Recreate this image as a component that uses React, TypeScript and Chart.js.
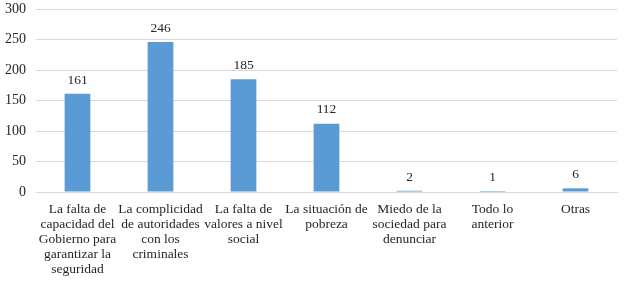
import React, { useEffect, useRef } from "react";
import { Chart, registerables } from "chart.js";

Chart.register(...registerables);

const categories: string[][] = [
  ["La falta de", "capacidad del", "Gobierno para", "garantizar la", "seguridad"],
  ["La complicidad", "de autoridades", "con los", "criminales"],
  ["La falta de", "valores a nivel", "social"],
  ["La situación de", "pobreza"],
  ["Miedo de la", "sociedad para", "denunciar"],
  ["Todo lo", "anterior"],
  ["Otras"],
];
const values: number[] = [161, 246, 185, 112, 2, 1, 6];
const yTicks: number[] = [0, 50, 100, 150, 200, 250, 300];

const FONT = '"Liberation Serif", "Times New Roman", serif';

const valueLabels = {
  id: "valueLabels",
  afterDatasetsDraw(chart: any) {
    const ctx = chart.ctx;
    const meta = chart.getDatasetMeta(0);
    ctx.save();
    ctx.font = `13.5px ${FONT}`;
    ctx.fillStyle = "#262626";
    ctx.textAlign = "center";
    ctx.textBaseline = "bottom";
    meta.data.forEach((bar: any, i: number) => {
      ctx.fillText(String(values[i]), bar.x, bar.y - 7);
    });
    ctx.restore();
  },
};

export default function App() {
  const ref = useRef<HTMLCanvasElement>(null);
  useEffect(() => {
    document.body.style.margin = "0";
    const chart = new Chart(ref.current!, {
      type: "bar",
      data: {
        labels: categories,
        datasets: [
          {
            data: values,
            backgroundColor: "#5B9BD5",
            barPercentage: 0.31,
            categoryPercentage: 1,
            minBarLength: 1,
          },
        ],
      },
      options: {
        animation: false,
        responsive: false,
        devicePixelRatio: 1,
        layout: { padding: { top: 0, right: 7, left: 0, bottom: 0 } },
        plugins: { legend: { display: false }, tooltip: { enabled: false } },
        scales: {
          x: {
            grid: { display: false, drawTicks: false },
            border: { color: "#d9d9d9" },
            ticks: {
              color: "#262626",
              font: { family: FONT, size: 13.5, lineHeight: 1.11 },
              maxRotation: 0,
              autoSkip: false,
              padding: 10,
            },
            afterFit(scale: any) {
              scale.height = 94;
            },
          },
          y: {
            min: 0,
            max: 300,
            afterBuildTicks(scale: any) {
              scale.ticks = yTicks.map((v) => ({ value: v }));
            },
            grid: { color: "#d9d9d9", drawTicks: false },
            border: { display: false },
            ticks: {
              color: "#262626",
              font: { family: FONT, size: 14 },
              padding: 10,
            },
            afterFit(scale: any) {
              scale.width = 36;
              scale.paddingTop = 9;
              scale.paddingBottom = 0;
            },
          },
        },
      },
      plugins: [valueLabels],
    });
    return () => chart.destroy();
  }, []);
  return <canvas ref={ref} width={624} height={286} style={{ display: "block" }} />;
}
